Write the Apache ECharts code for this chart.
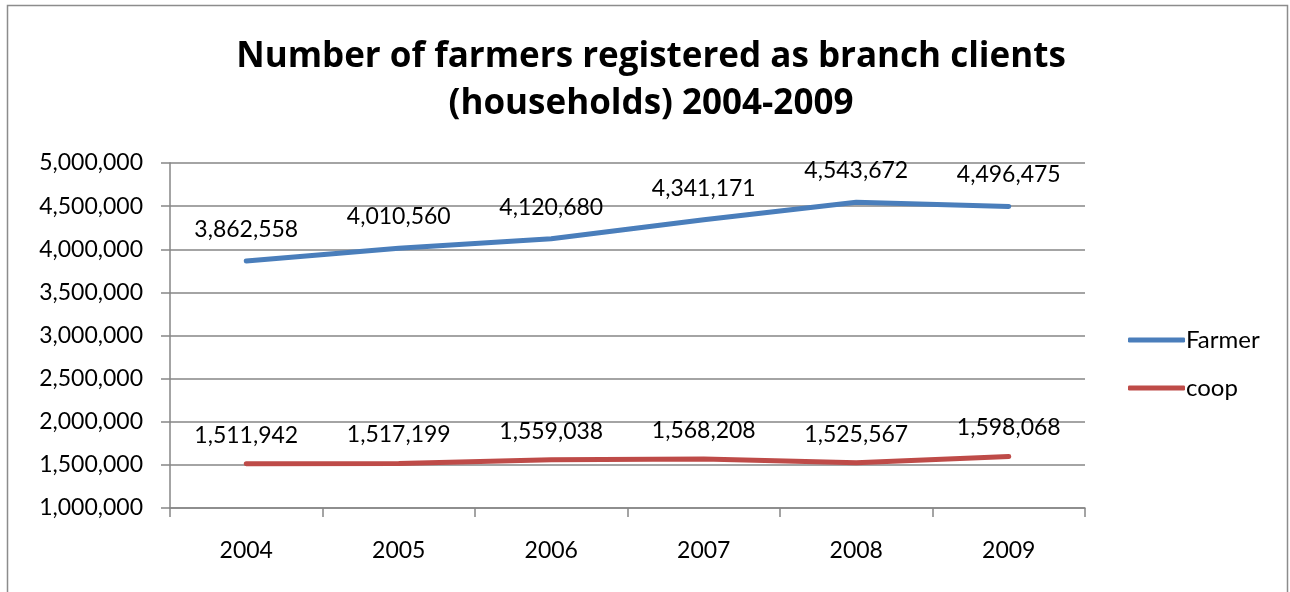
<!DOCTYPE html>
<html>
<head>
<meta charset="utf-8">
<script src="https://cdn.jsdelivr.net/npm/echarts@6/dist/echarts.min.js"></script>
<style>
html,body{margin:0;padding:0;background:#fff;}
#chart{width:1290px;height:592px;}
</style>
</head>
<body>
<div id="chart"></div>
<script>
const categories = ['2004', '2005', '2006', '2007', '2008', '2009'];
const farmerValues = [3862558, 4010560, 4120680, 4341171, 4543672, 4496475];
const coopValues = [1511942, 1517199, 1559038, 1568208, 1525567, 1598068];
const seriesNames = ['Farmer', 'coop'];
const titleText = 'Number of farmers registered as branch clients\n(households) 2004-2009';

const FONT = 'Lato, "Open Sans", sans-serif';
const fmt = v => Number(v).toLocaleString('en-US');
const chart = echarts.init(document.getElementById('chart'));
chart.setOption({
  backgroundColor: '#ffffff',
  animation: false,
  title: {
    text: titleText,
    left: 646,
    textAlign: 'center',
    top: 29,
    textStyle: { fontFamily: '"Open Sans", Lato, sans-serif', fontSize: 35, fontWeight: 'bold', color: '#000', lineHeight: 47 }
  },
  graphic: [{
    type: 'rect',
    shape: { x: 7.5, y: 5.5, width: 1280, height: 600 },
    style: { fill: 'none', stroke: '#8c8c8c', lineWidth: 1.5 },
    silent: true
  }],
  legend: {
    orient: 'vertical',
    left: 1123,
    top: 323,
    itemWidth: 57,
    itemHeight: 5,
    itemGap: 24,
    icon: 'roundRect',
    textStyle: { fontFamily: FONT, fontSize: 24, color: '#000', padding: [0, 0, 0, -4] },
    data: seriesNames
  },
  grid: { left: 170, right: 205, top: 163, bottom: 84 },
  xAxis: {
    type: 'category',
    data: categories,
    boundaryGap: true,
    axisLine: { lineStyle: { color: '#868686', width: 1.5 } },
    axisTick: { show: true, length: 9, lineStyle: { color: '#868686', width: 1.5 } },
    axisLabel: { fontFamily: FONT, fontSize: 23, color: '#000', margin: 31 }
  },
  yAxis: {
    type: 'value',
    min: 1000000,
    max: 5000000,
    interval: 500000,
    axisLine: { show: true, lineStyle: { color: '#868686', width: 1.5 } },
    axisTick: { show: true, length: 9, lineStyle: { color: '#868686', width: 1.5 } },
    splitLine: { show: true, lineStyle: { color: '#868686', width: 1.5 } },
    axisLabel: { fontFamily: FONT, fontSize: 23, color: '#000', margin: 27, formatter: v => fmt(v) }
  },
  series: [
    {
      name: seriesNames[0],
      type: 'line',
      data: farmerValues,
      symbol: 'circle',
      symbolSize: 0,
      showSymbol: true,
      lineStyle: { color: '#4A7EBB', width: 5, cap: 'round' },
      itemStyle: { color: '#4A7EBB' },
      label: { show: true, position: 'top', distance: 20, fontFamily: FONT, fontSize: 23, color: '#000', formatter: p => fmt(p.value) }
    },
    {
      name: seriesNames[1],
      type: 'line',
      data: coopValues,
      symbol: 'circle',
      symbolSize: 0,
      showSymbol: true,
      lineStyle: { color: '#BE4B48', width: 5, cap: 'round' },
      itemStyle: { color: '#BE4B48' },
      label: { show: true, position: 'top', distance: 17, fontFamily: FONT, fontSize: 23, color: '#000', formatter: p => fmt(p.value) }
    }
  ]
});
</script>
</body>
</html>
